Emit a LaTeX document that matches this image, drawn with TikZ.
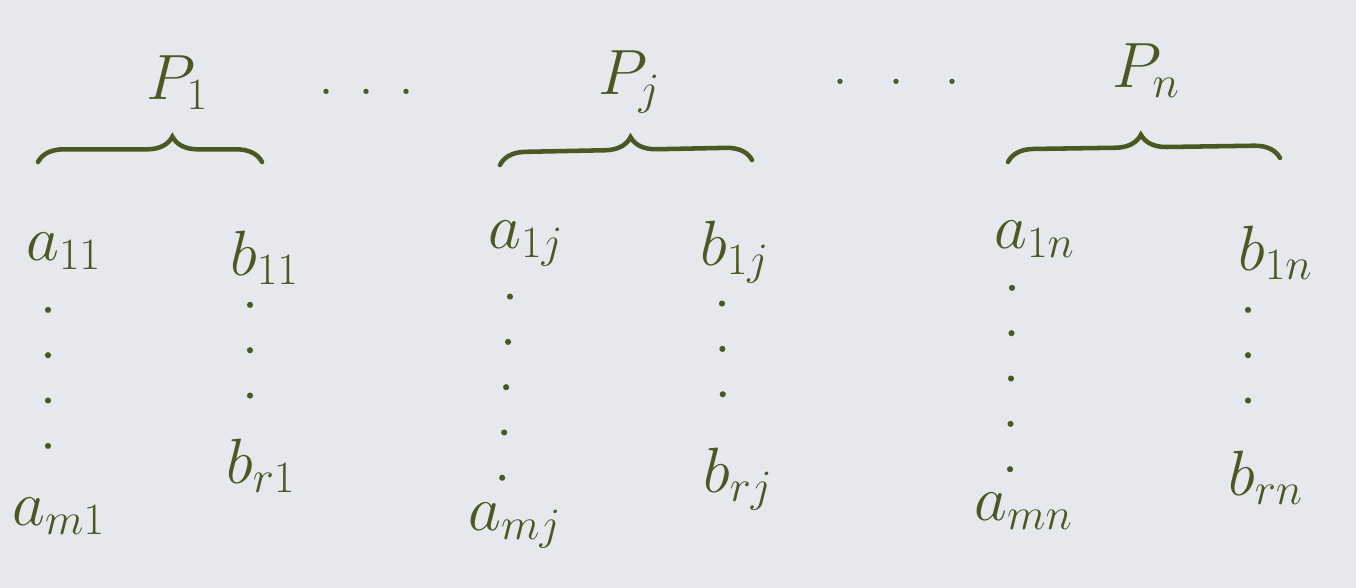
\documentclass[tikz,border=0pt]{standalone}
\usepackage{fix-cm}
\usetikzlibrary{decorations.pathreplacing}
\definecolor{ink}{RGB}{74,88,34}
\definecolor{paper}{RGB}{230,232,237}

\begin{document}
\begin{tikzpicture}[x=0.75pt, y=-0.75pt,
  every node/.style={text=ink, font=\fontsize{48}{56}\selectfont, inner sep=0pt, anchor=base west},
  grp/.style={draw=ink, line width=3.4pt, line cap=round, decorate, decoration={brace, amplitude=19pt, #1}},
  vdots/.style={draw=ink, line width=4.6pt, line cap=round, dash pattern=on 0pt off 34pt}]
  \fill[paper] (0,0) rectangle (1356,588);
  \useasboundingbox (0,0) rectangle (1356,588);
  % group heads
  \node (p1) at (146,100) {$P_1$};
  \node (hd1) at (318,95) {.\hspace{18pt}.\hspace{18pt}.};
  \node (pj) at (598,95) {$P_j$};
  \node (hd2) at (832,85) {.\hspace{30pt}.\hspace{30pt}.};
  \node (pn) at (1112,88) {$P_n$};
  % braces
  \coordinate (l1) at (38,162);   \coordinate (r1) at (262,162);
  \coordinate (l2) at (500,165);  \coordinate (r2) at (752,160);
  \coordinate (l3) at (1008,162); \coordinate (r3) at (1280,158);
  \draw[grp={aspect=0.6}] (l1) -- (r1);
  \draw[grp={aspect=0.52}] (l2) -- (r2);
  \draw[grp={aspect=0.49}] (l3) -- (r3);
  % column 1
  \node (a11) at (26,260) {$a_{11}$};
  \node (b11) at (230,275) {$b_{11}$};
  \node (am1) at (12,525) {$a_{m1}$};
  \node (br1) at (226,483) {$b_{r1}$};
  % column j
  \node (a1j) at (488,248) {$a_{1j}$};
  \node (b1j) at (700,265) {$b_{1j}$};
  \node (amj) at (468,530) {$a_{mj}$};
  \node (brj) at (703,492) {$b_{rj}$};
  % column n
  \node (a1n) at (994,248) {$a_{1n}$};
  \node (b1n) at (1238,270) {$b_{1n}$};
  \node (amn) at (974,520) {$a_{mn}$};
  \node (brn) at (1228,495) {$b_{rn}$};
  % vertical dots
  \draw[vdots] ([shift={(22,40)}]a11.south west) -- ([shift={(36,-20)}]am1.north west);
  \draw[vdots] ([shift={(20,20)}]b11.south west) -- ([shift={(24,-20)}]br1.north west);
  \draw[vdots] ([shift={(22,30)}]a1j.south west) -- ([shift={(34,-20)}]amj.north west);
  \draw[vdots] ([shift={(22,20)}]b1j.south west) -- ([shift={(20,-20)}]brj.north west);
  \draw[vdots] ([shift={(18,30)}]a1n.south west) -- ([shift={(36,-20)}]amn.north west);
  \draw[vdots] ([shift={(10,30)}]b1n.south west) -- ([shift={(20,-20)}]brn.north west);
\end{tikzpicture}
\end{document}
